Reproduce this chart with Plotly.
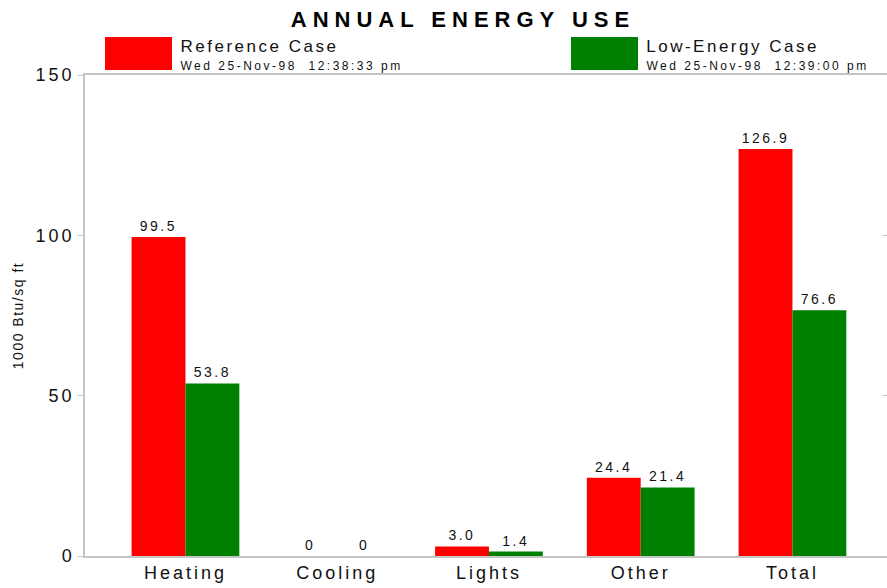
import plotly.graph_objects as go

categories = ["Heating", "Cooling", "Lights", "Other", "Total"]
reference_values = [99.5, 0, 3.0, 24.4, 126.9]
low_energy_values = [53.8, 0, 1.4, 21.4, 76.6]
series_names = ["Reference Case", "Low-Energy Case"]
series_dates = ["Wed 25-Nov-98  12:38:33 pm", "Wed 25-Nov-98  12:39:00 pm"]
series_colors = ["#ff0000", "#008000"]
y_ticks = [0, 50, 100, 150]
title_text = "ANNUAL ENERGY USE"
y_title = "1000 Btu/sq ft"

FONT = "Liberation Sans, Arial, Helvetica, sans-serif"
GREY = "#c4c4c4"
ANN_SP = 2.5

W, H = 887, 588
L, R, T, B = 85, 0, 75, 32
pw, ph = W - L - R, H - T - B


def fmt(v):
    return "0" if v == 0 else f"{v:.1f}"


fig = go.Figure()
for name, vals, col in zip(series_names, [reference_values, low_energy_values], series_colors):
    fig.add_trace(go.Bar(
        x=categories, y=vals, name=name, marker_color=col, marker_line_width=0,
        text=[fmt(v) for v in vals], textposition="outside", cliponaxis=False,
        constraintext="none",
        textfont=dict(family=FONT, size=14, color="#111"), showlegend=False,
    ))
# helper trace for right-hand ticks
fig.add_trace(go.Scatter(x=categories, y=[None] * len(categories), yaxis="y2",
                         showlegend=False, hoverinfo="skip"))

# custom legend
legend_x = [105, 571]
shapes, annotations = [], []
for i, (name, date, col) in enumerate(zip(series_names, series_dates, series_colors)):
    x0 = legend_x[i]
    shapes.append(dict(type="rect", xref="paper", yref="paper",
                       x0=(x0 - L) / pw, x1=(x0 + 67 - L) / pw,
                       y0=(H - B - 70) / ph, y1=(H - B - 37) / ph,
                       fillcolor=col, line_width=0))
    for txt, size, ypx in [(name, 17, 46), (date, 12, 66)]:
        off = len(txt) * ANN_SP / 2
        annotations.append(dict(text=txt, xref="paper", yref="paper",
                                x=(x0 + 73 + off - L) / pw, y=(H - B - ypx) / ph,
                                xanchor="left", yanchor="middle", showarrow=False,
                                font=dict(family=FONT, size=size, color="#111")))

fig.update_layout(
    width=W, height=H, margin=dict(l=L, r=R, t=T, b=B),
    paper_bgcolor="white", plot_bgcolor="white",
    barmode="group", bargap=0.29, bargroupgap=0,
    title=dict(text=f"<b>{title_text}</b>", x=463 / W, xanchor="center",
               y=1 - 19 / H, yanchor="middle", yref="container", xref="container",
               font=dict(family=FONT, size=22, color="#000")),
    xaxis=dict(type="category", range=[-0.662, 4.623], showgrid=False,
               showline=True, linecolor=GREY, linewidth=1.5, mirror=True,
               ticks="", tickfont=dict(family=FONT, size=18, color="#111"),
               zeroline=False),
    yaxis=dict(range=[0, 150], tickvals=y_ticks, showgrid=False, zeroline=False,
               showline=True, linecolor=GREY, linewidth=1.5,
               ticks="outside", ticklen=5, tickcolor=GREY, tickwidth=1,
               tickfont=dict(family=FONT, size=18, color="#111"),
               title=dict(text=y_title, font=dict(family=FONT, size=14, color="#111"),
                          standoff=18)),
    yaxis2=dict(range=[0, 150], tickvals=y_ticks, overlaying="y", side="right",
                anchor="x", showgrid=False, zeroline=False, showline=False,
                showticklabels=False, ticks="inside", ticklen=5,
                tickcolor=GREY, tickwidth=1),
    shapes=shapes, annotations=annotations,
)

post = """
document.body.style.margin = '0';
document.body.style.padding = '0';
var gd = document.getElementsByClassName('plotly-graph-div')[0];
function sp(sel, v){ gd.querySelectorAll(sel).forEach(function(t){ t.style.letterSpacing = v; }); }
sp('text.gtitle', '6px');
sp('g.xtick text', '3px');
sp('g.ytick text', '3px');
sp('text.ytitle', '1.5px');
sp('text.bartext', '2.5px');
sp('g.annotation text', '%spx');
""" % ANN_SP
fig.write_html("out.html", post_script=post, config={"displayModeBar": False})
